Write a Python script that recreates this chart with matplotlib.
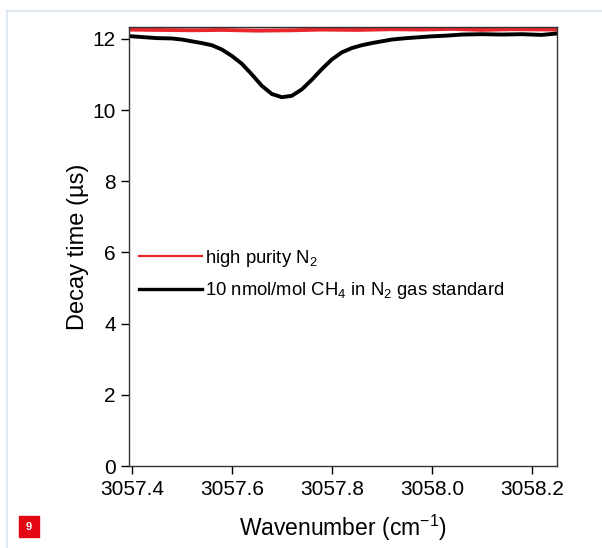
import numpy as np
import matplotlib.pyplot as plt
from matplotlib.patches import Rectangle
from matplotlib.lines import Line2D

plt.rcParams['font.family'] = ['Liberation Sans', 'DejaVu Sans']
plt.rcParams['mathtext.fontset'] = 'custom'
plt.rcParams['mathtext.rm'] = 'Liberation Sans'
plt.rcParams['mathtext.it'] = 'Liberation Sans:italic'
plt.rcParams['mathtext.default'] = 'rm'

# black trace: 10 nmol/mol CH4 in N2
wn_ch4 = [3057.39, 3057.42, 3057.45, 3057.48, 3057.50, 3057.52, 3057.54, 3057.56,
          3057.58, 3057.60, 3057.62, 3057.64, 3057.66, 3057.68, 3057.70, 3057.72,
          3057.74, 3057.76, 3057.78, 3057.80, 3057.82, 3057.84, 3057.86, 3057.88,
          3057.90, 3057.92, 3057.95, 3057.98, 3058.00, 3058.03, 3058.06, 3058.10,
          3058.14, 3058.18, 3058.22, 3058.25]
tau_ch4 = [12.08, 12.05, 12.02, 12.01, 11.98, 11.93, 11.88, 11.82,
           11.70, 11.52, 11.30, 11.00, 10.68, 10.45, 10.36, 10.40,
           10.58, 10.85, 11.15, 11.42, 11.62, 11.74, 11.82, 11.88,
           11.93, 11.98, 12.02, 12.05, 12.07, 12.09, 12.12, 12.13,
           12.12, 12.13, 12.11, 12.15]

# red trace: high purity N2
wn_n2 = [3057.39, 3057.45, 3057.52, 3057.58, 3057.65, 3057.72, 3057.78, 3057.85,
         3057.92, 3057.98, 3058.04, 3058.10, 3058.16, 3058.25]
tau_n2 = [12.26, 12.25, 12.24, 12.25, 12.23, 12.24, 12.26, 12.25,
          12.27, 12.26, 12.28, 12.25, 12.27, 12.26]

fig = plt.figure(figsize=(6.02, 5.48), dpi=100)
ax = fig.add_axes([0.214, 0.1496, 0.711, 0.801])

ax.plot(wn_n2, tau_n2, color='#e8262b', lw=2.8)
ax.plot(wn_ch4, tau_ch4, color='black', lw=2.8)

ax.set_xlim(3057.394, 3058.25)
ax.set_ylim(0, 12.33)
ax.set_xticks([3057.4, 3057.6, 3057.8, 3058.0, 3058.2])
ax.set_xticklabels(['3057.4', '3057.6', '3057.8', '3058.0', '3058.2'])
ax.set_yticks([0, 2, 4, 6, 8, 10, 12])
ax.tick_params(direction='out', length=6, width=1, labelsize=15)
ax.tick_params(axis='x', pad=4)
for s in ax.spines.values():
    s.set_linewidth(1.0)
    s.set_color('#333333')

ax.set_xlabel('Wavenumber (cm$^{-1}$)', fontsize=16.5, labelpad=10)
ax.set_ylabel('Decay time (\u00b5s)', fontsize=17, labelpad=2)

handles = [Line2D([], [], color='#e8262b', lw=1.6),
           Line2D([], [], color='black', lw=2.4)]
ax.legend(handles, ['high purity N$_2$', '10 nmol/mol CH$_4$ in N$_2$ gas standard'],
          loc='upper left', bbox_to_anchor=(-0.015, 0.535), frameon=False,
          fontsize=13.3, handlelength=3.4, handletextpad=0.15, labelspacing=0.62)

# page frame and figure number box
fig.add_artist(Line2D([7 / 602, 1], [1 - 11 / 548, 1 - 11 / 548],
                      color='#d9e3ef', lw=1.2, transform=fig.transFigure))
fig.add_artist(Line2D([7 / 602, 7 / 602], [0, 1 - 11 / 548],
                      color='#d9e3ef', lw=1.2, transform=fig.transFigure))
fig.add_artist(Rectangle((19 / 602, 1 - 537 / 548), 20 / 602, 21 / 548,
                         color='#e30613', transform=fig.transFigure))
fig.text(29 / 602, 1 - 526.5 / 548, '9', color='white', fontsize=8,
         fontweight='bold', ha='center', va='center')

fig.savefig('out.png', dpi=100)
